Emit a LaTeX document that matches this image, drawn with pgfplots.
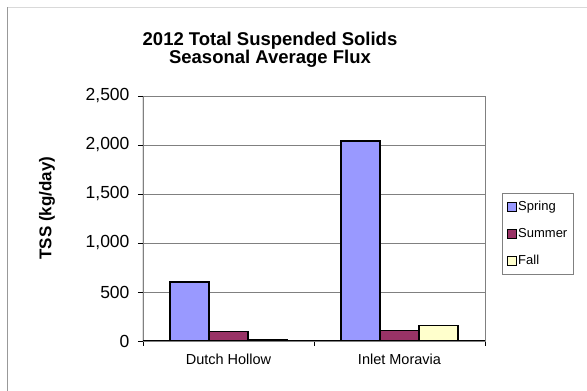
\documentclass[border=0pt]{standalone}
\usepackage{pgfplots}
\pgfplotsset{compat=1.18}
\usepackage{fontspec}
\setmainfont{Liberation Sans}
\definecolor{spring}{HTML}{9999FF}
\definecolor{summer}{HTML}{993366}
\definecolor{fall}{HTML}{FFFFCC}
\definecolor{gridc}{HTML}{808080}
\begin{document}
\begin{tikzpicture}[x=1pt,y=1pt]
\useasboundingbox (0,0) rectangle (587,391);
\draw[color=black!15, line width=0.8pt] (7,384) -- (587,384);
\draw[color=gridc!80, line width=0.8pt] (7,0) -- (7,384);
\begin{axis}[
  at={(143pt,50pt)}, anchor=south west,
  scale only axis, width=342pt, height=245pt,
  ymin=0, ymax=2500, ytick distance=500,
  xmin=-0.5, xmax=1.5,
  ybar=0pt, bar width=0.228,
  xtick={-0.5,0.5,1.5}, xticklabels={},
  xtick pos=bottom, ytick pos=left,
  extra x ticks={0,1},
  extra x tick labels={Dutch Hollow, Inlet Moravia},
  extra x tick style={major tick length=0pt, grid=none,
     xticklabel style={font=\fontsize{14.5}{17}\selectfont, yshift=-9pt}},
  tick align=outside, major tick length=5pt,
  tick style={black, line width=0.8pt},
  axis line style={draw=gridc, line width=0.8pt},
  ymajorgrids, grid style={gridc, line width=0.9pt},
  /pgf/number format/assume math mode=true,
  /pgf/number format/1000 sep={,},
  scaled y ticks=false,
  yticklabel style={font=\fontsize{17.5}{20}\selectfont, xshift=-5pt},
  legend cell align=left,
  legend style={at={(1.0497,0.604)}, anchor=north west,
    draw=gridc, line width=0.8pt, inner xsep=5pt, inner ysep=6pt, row sep=12pt,
    font=\fontsize{13}{15}\selectfont,
    nodes={inner xsep=1pt, inner ysep=1pt, text height=10pt, text depth=3pt},
    /tikz/every even column/.append style={column sep=0pt}},
  sq/.style={legend image code/.code={\draw[##1, line width=0.8pt, draw=black] (0pt,-4.5pt) rectangle (9pt,4.5pt);}},
]
\addplot[fill=spring, draw=black, line width=1.3pt, sq] coordinates {(0,602) (1,2041)};
\addplot[fill=summer, draw=black, line width=1.3pt, sq] coordinates {(0,95) (1,105)};
\addplot[fill=fall, draw=black, line width=1.3pt, sq] coordinates {(0,15) (1,160)};
\legend{Spring, Summer, Fall}
\draw[black, line width=1pt] (rel axis cs:0,1) -- (rel axis cs:0,0) -- (rel axis cs:1,0);
\end{axis}
\node[font=\bfseries\fontsize{18.5}{17}\selectfont, align=center] at (270,341) {2012 Total Suspended Solids\\Seasonal Average Flux};
\node[font=\bfseries\fontsize{17}{20}\selectfont, rotate=90] at (47,183) {TSS (kg/day)};
\end{tikzpicture}
\end{document}
